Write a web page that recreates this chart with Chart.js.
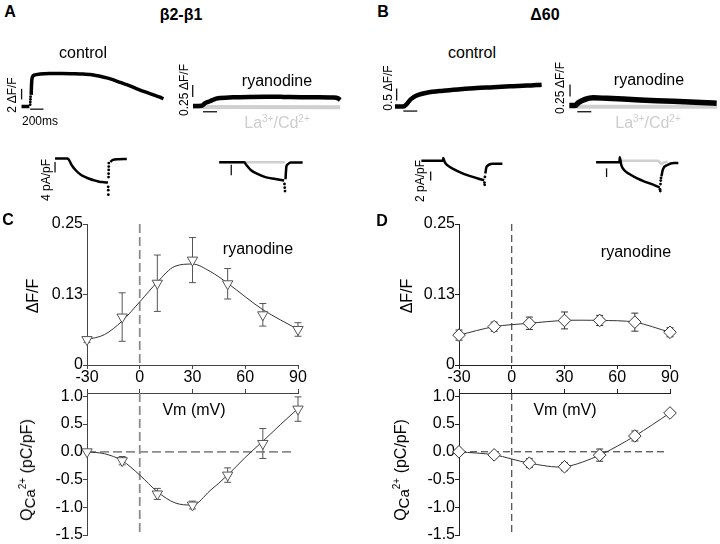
<!DOCTYPE html>
<html>
<head>
<meta charset="utf-8">
<script src="https://cdn.jsdelivr.net/npm/chart.js@4.4.1/dist/chart.umd.min.js"></script>
<style>
body{margin:0;background:#fff;font-family:"Liberation Sans",Arial,sans-serif;}
#fig{position:relative;width:720px;height:544px;overflow:hidden;background:#fff;}
canvas{position:absolute;}
.t{position:absolute;white-space:nowrap;transform:translate(-50%,-50%);color:#000;font-size:16px;line-height:1;}
.r{transform:translate(-50%,-50%) rotate(-90deg);}
.b{font-weight:bold;}
.s{font-size:12px;}
.g{color:#cdcdcd;}
sup{font-size:10px;vertical-align:6px;line-height:0;}
.sb{font-size:15px;vertical-align:-3px;}
</style>
</head>
<body>
<div id="fig"></div>
<script>
// ---- traces (time in ms, fluorescence in dF/F, current in pA/pF) ----
const aCtrlFt = [-130, -12, 8, 15, 20, 25, 35, 60, 150, 300, 470, 650, 800, 950, 1050, 1150, 1250, 1350, 1450, 1550, 1650, 1750, 1850, 1950, 2000];
const aCtrlF  = [0, 0, null, 2.2, 4.0, 5.0, 5.6, 5.9, 6.1, 6.2, 6.22, 6.17, 6.1, 5.95, 5.7, 5.4, 5.0, 4.55, 4.1, 3.6, 3.1, 2.65, 2.2, 1.75, 1.45];
const aCtrlFdt = [0, 2, 4, 6];
const aCtrlFd  = [0.35, 0.85, 1.35, 1.85];

const aRyaFt = [-143, -20, 30, 100, 160, 215, 430, 650, 915, 1150, 1390, 1620, 1860, 1930, 1960];
const aRyaF  = [0, 0.005, 0.06, 0.1, 0.14, 0.16, 0.18, 0.19, 0.195, 0.19, 0.182, 0.18, 0.175, 0.16, 0.125];
const aLaFt = [-143, 1960];
const aLaF  = [-0.02, -0.028];

const bCtrlFt = [-119, 0, 48, 96, 143, 214, 334, 571, 810, 1048, 1286, 1524, 1762, 1976];
const bCtrlF  = [0, 0, 0.1, 0.27, 0.38, 0.48, 0.575, 0.66, 0.72, 0.77, 0.8, 0.84, 0.87, 0.91];

const bRyaFt = [-114, -30, 14, 110, 229, 420, 657, 896, 1134, 1371, 1610, 1849, 1991];
const bRyaF  = [0, 0, 0.058, 0.129, 0.16, 0.15, 0.135, 0.115, 0.1, 0.088, 0.073, 0.058, 0.046];
const bLaFt = [0, 2000];
const bLaF  = [-0.025, -0.025];

const aCtrlIt = [-186, 0, 24, 71, 143, 214, 286, 357, 429, 500, 571, 636, 650, 671, 714, 786, 929];
const aCtrlI  = [0, 0, -0.3, -2.5, -4.7, -6.2, -7.1, -7.85, -8.4, -8.85, -9.05, -9.2, null, -1.3, -0.6, -0.33, -0.27];
const aCtrlIdt = [640, 641, 642, 645, 646, 647, 648, 649];
const aCtrlId  = [-10.8, -12.1, -13.8, -7.1, -5.8, -4.4, -3.1, -1.8];

const aRyaIt = [-386, 0, 33, 104, 195, 338, 481, 614, 622, 636, 643, 650, 671, 714, 900];
const aRyaI  = [0, 0, -1.1, -3.1, -4.4, -5.8, -6.4, -7.0, null, -6.5, -3.5, -1.6, -0.8, -0.17, -0.1];
const aRyaIdt = [620, 624, 628];
const aRyaId  = [-8.3, -9.7, -11.0];
const aLaIt = [-386, 629];
const aLaI  = [0, 0];

const bCtrlIt = [-339, -5, 0, 23, 71, 167, 262, 405, 548, 633, 642, 650, 666, 690, 714, 760, 914];
const bCtrlI  = [0, 0, 0.6, -0.34, -1.14, -2.0, -2.68, -3.48, -4.14, -4.48, null, -2.94, -1.54, -1.1, -0.88, -0.72, -0.68];
const bCtrlIdt = [636, 640, 644];
const bCtrlId  = [-5.0, -5.5, -3.7];

const bRyaIt = [-366, -5, 0, 24, 71, 143, 262, 405, 524, 619, 628, 645, 667, 738, 834, 906];
const bRyaI  = [0, 0, 1.1, -0.66, -1.86, -2.66, -3.66, -4.54, -5.2, -5.8, null, -3.2, -1.66, -0.66, -0.2, -0.2];
const bRyaIdt = [622, 626, 630, 634, 638];
const bRyaId  = [-6.2, -6.6, -5.0, -4.2, -3.6];
const bLaIt = [0, 590, 615, 640, 680, 740];
const bLaI  = [0.34, 0.34, 0.0, -0.4, -0.1, 0.1];

// ---- voltage dependence ----
const vm = [-30, -10, 10, 30, 50, 70, 90];
const cF    = [0.045, 0.085, 0.145, 0.186, 0.144, 0.089, 0.063];
const cFerr = [0.005, 0.043, 0.05, 0.04, 0.027, 0.02, 0.012];
const cFitV = [-30, -20, -10, 0, 10, 20, 30, 40, 50, 60, 70, 80, 90];
const cFitF = [0.045, 0.054, 0.078, 0.112, 0.147, 0.175, 0.179, 0.166, 0.145, 0.121, 0.098, 0.08, 0.063];
const cQ    = [0, -0.16, -0.76, -0.96, -0.42, 0.15, 0.77];
const cQerr = [0, 0.075, 0.1, 0.07, 0.13, 0.27, 0.22];
const cFitQ = [0, -0.036, -0.16, -0.42, -0.72, -0.92, -0.96, -0.7, -0.42, -0.1, 0.19, 0.49, 0.78];
const dF    = [0.053, 0.068, 0.074, 0.079, 0.079, 0.076, 0.058];
const dFerr = [0.009, 0.008, 0.011, 0.015, 0.009, 0.016, 0.008];
const dQ    = [0, -0.055, -0.205, -0.27, -0.06, 0.285, 0.70];
const dQerr = [0, 0.02, 0.08, 0.07, 0.11, 0.09, 0.04];

const vmTicks = [-30, 0, 30, 60, 90];
const fTicks = [0, 0.125, 0.25];
const qTicks = [-1.5, -1.0, -0.5, 0, 0.5, 1.0];

Chart.defaults.font.family = '"Liberation Sans", Arial, sans-serif';
const fig = document.getElementById('fig');
const zip = (xs, ys) => xs.map((x, i) => ({x: x, y: ys[i]}));

function canvasAt(l, t, w, h) {
  const c = document.createElement('canvas');
  c.width = w; c.height = h;
  c.style.left = l + 'px'; c.style.top = t + 'px';
  c.style.width = w + 'px'; c.style.height = h + 'px';
  fig.appendChild(c);
  return c.getContext('2d');
}

function text(html, x, y, cls) {
  const d = document.createElement('div');
  d.className = 't ' + (cls || '');
  d.innerHTML = html;
  d.style.left = x + 'px'; d.style.top = y + 'px';
  fig.appendChild(d);
}

// trace panels: box in page px, origin = page px of (t=0, value=0)
const MS_PER_PX = 200 / 14;
const scaleBars = {
  id: 'scaleBars',
  afterDatasetsDraw(chart, args, o) {
    const {ctx, scales: {x, y}} = chart;
    ctx.save();
    ctx.strokeStyle = '#111';
    ctx.lineWidth = 1.3;
    (o.bars || []).forEach(b => {
      ctx.beginPath();
      ctx.moveTo(x.getPixelForValue(b[0]), y.getPixelForValue(b[1]));
      ctx.lineTo(x.getPixelForValue(b[2]), y.getPixelForValue(b[3]));
      ctx.stroke();
    });
    ctx.restore();
  }
};

function trace(box, origin, perPx, series, bars) {
  const ctx = canvasAt(box.l, box.t, box.w, box.h);
  new Chart(ctx, {
    type: 'line',
    data: {
      datasets: series.map(s => ({
        data: zip(s.t, s.v),
        borderColor: s.color || '#000',
        backgroundColor: s.color || '#000',
        borderWidth: s.dots ? 0 : (s.w || 3),
        showLine: !s.dots,
        pointRadius: s.dots ? 1.4 : 0,
        cubicInterpolationMode: 'monotone',
        spanGaps: false
      }))
    },
    options: {
      responsive: false, devicePixelRatio: 1, animation: false, events: [],
      layout: {padding: 0},
      scales: {
        x: {type: 'linear', display: false,
            min: (box.l - origin.x) * MS_PER_PX, max: (box.l + box.w - origin.x) * MS_PER_PX},
        y: {type: 'linear', display: false,
            min: (origin.y - box.t - box.h) * perPx, max: (origin.y - box.t) * perPx}
      },
      plugins: {legend: {display: false}, tooltip: {enabled: false}, scaleBars: {bars: bars}}
    },
    plugins: [scaleBars]
  });
}

const GRAY = '#cfcfcf';
trace({l: 10, t: 60, w: 165, h: 70}, {x: 27, y: 108}, 2 / 12, [
  {t: aCtrlFdt, v: aCtrlFd, dots: true},
  {t: aCtrlFt, v: aCtrlF, w: 3.5}
], [[-129, 1.33, -129, 3.33], [0, -0.5, 200, -0.5]]);

trace({l: 185, t: 75, w: 160, h: 45}, {x: 203, y: 106}, 0.25 / 12, [
  {t: aRyaFt, v: aRyaF, w: 4.5},
  {t: aLaFt, v: aLaF, w: 4, color: GRAY}
], [[-147, 0.19, -147, 0.44], [0, -0.12, 200, -0.12]]);

trace({l: 385, t: 75, w: 165, h: 45}, {x: 403.3, y: 106.5}, 0.5 / 12, [
  {t: bCtrlFt, v: bCtrlF, w: 4.5}
], [[-95, 0.25, -95, 0.75], [0, -0.19, 200, -0.19]]);

trace({l: 560, t: 75, w: 160, h: 45}, {x: 577.3, y: 105.5}, 0.25 / 12, [
  {t: bRyaFt, v: bRyaF, w: 5.5},
  {t: bLaFt, v: bLaF, w: 4, color: GRAY}
], [[-104, 0.19, -104, 0.44], [0, -0.13, 200, -0.13]]);

trace({l: 40, t: 145, w: 100, h: 65}, {x: 65, y: 155.7}, 1 / 3, [
  {t: aCtrlIdt, v: aCtrlId, dots: true},
  {t: aCtrlIt, v: aCtrlI, w: 2.5}
], [[-186, -1.4, -186, -5.4]]);

trace({l: 205, t: 145, w: 110, h: 65}, {x: 243, y: 160}, 1 / 3, [
  {t: aRyaIdt, v: aRyaId, dots: true},
  {t: aRyaIt, v: aRyaI, w: 2.5},
  {t: aLaIt, v: aLaI, w: 2.5, color: GRAY}
], [[-200, -1, -200, -5]]);

trace({l: 410, t: 145, w: 105, h: 65}, {x: 441.7, y: 158.3}, 0.2, [
  {t: bCtrlIdt, v: bCtrlId, dots: true},
  {t: bCtrlIt, v: bCtrlI, w: 2.5}
], [[-195, -2.5, -195, -4.5]]);

trace({l: 585, t: 145, w: 105, h: 65}, {x: 618.3, y: 160}, 0.2, [
  {t: bRyaIdt, v: bRyaId, dots: true},
  {t: bRyaIt, v: bRyaI, w: 2.5},
  {t: bLaIt, v: bLaI, w: 2.5, color: GRAY}
], [[-204, -1.4, -204, -3.4]]);

// ---- voltage plots ----
const refLines = {
  id: 'refLines',
  beforeDatasetsDraw(chart, args, o) {
    const {ctx, chartArea: a, scales: {x, y}} = chart;
    ctx.save();
    ctx.strokeStyle = o.color; ctx.lineWidth = o.width; ctx.setLineDash(o.dash);
    ctx.beginPath();
    const x0 = x.getPixelForValue(0);
    ctx.moveTo(x0, a.top); ctx.lineTo(x0, a.bottom);
    if (o.hline) {
      const y0 = y.getPixelForValue(0);
      ctx.moveTo(a.left, y0); ctx.lineTo(x.getPixelForValue(88), y0);
    }
    ctx.stroke();
    ctx.restore();
  }
};
const errBars = {
  id: 'errBars',
  beforeDatasetsDraw(chart) {
    const {ctx, scales: {y}} = chart;
    ctx.save();
    chart.data.datasets.forEach((ds, i) => {
      if (!ds.err) return;
      ctx.strokeStyle = ds.errColor; ctx.lineWidth = 1;
      chart.getDatasetMeta(i).data.forEach((pt, j) => {
        const e = ds.err[j];
        if (!e) return;
        const v = ds.data[j].y;
        const y1 = y.getPixelForValue(v + e), y2 = y.getPixelForValue(v - e);
        ctx.beginPath();
        ctx.moveTo(pt.x, y1); ctx.lineTo(pt.x, y2);
        ctx.moveTo(pt.x - 3.5, y1); ctx.lineTo(pt.x + 3.5, y1);
        ctx.moveTo(pt.x - 3.5, y2); ctx.lineTo(pt.x + 3.5, y2);
        ctx.stroke();
      });
    });
    ctx.restore();
  }
};

function ivPlot(l, upper, o) {
  const ctx = canvasAt(l, upper ? 214 : 360, 320, upper ? 176 : 185);
  new Chart(ctx, {
    type: 'line',
    data: {datasets: o.datasets},
    options: {
      responsive: false, devicePixelRatio: 1, animation: false, events: [],
      layout: {padding: upper ? {top: 10, right: 22, left: 0, bottom: 0} : {top: 0, right: 22, left: 0, bottom: 10}},
      scales: {
        x: {type: 'linear', position: upper ? 'bottom' : 'top', min: -30, max: 90,
            afterBuildTicks: s => { s.ticks = vmTicks.map(v => ({value: v})); },
            afterFit: s => { s.height = upper ? 25 : 33; },
            grid: {drawOnChartArea: false, tickLength: 4, color: o.axis},
            border: {color: o.axis, width: 1},
            ticks: {display: upper, padding: -1, color: '#000', font: {size: 16}, maxRotation: 0}},
        y: {type: 'linear', min: o.ymin, max: o.ymax,
            afterBuildTicks: s => { s.ticks = o.ticks.map(v => ({value: v})); },
            afterFit: s => { s.width = 87; },
            grid: {drawOnChartArea: false, tickLength: 4, color: o.axis},
            border: {color: o.axis, width: 1},
            ticks: {padding: 0, color: '#000', font: {size: 16}, callback: o.fmt}}
      },
      plugins: {legend: {display: false}, tooltip: {enabled: false},
                refLines: {color: o.dashColor, width: o.dashWidth, dash: o.dash, hline: !upper}}
    },
    plugins: [refLines, errBars]
  });
}

const fmtF = v => v === 0 ? '0' : v.toFixed(2);
const fmtQ = v => v.toFixed(1);
function marks(ys, err, style, color, line) {
  return {
    data: zip(vm, ys), err: err, errColor: color, clip: false,
    showLine: !!line, borderColor: '#333', borderWidth: 1, tension: 0.3,
    pointStyle: style, rotation: style === 'triangle' ? 180 : 0,
    pointRadius: style === 'triangle' ? 6 : 6.3,
    pointBackgroundColor: '#fff', pointBorderColor: color, pointBorderWidth: 1
  };
}
function fit(xs, ys) {
  return {data: zip(xs, ys), borderColor: '#333', borderWidth: 1, pointRadius: 0,
          cubicInterpolationMode: 'monotone', clip: false};
}

const cStyle = {axis: '#444', dashColor: '#8c8c8c', dashWidth: 1.8, dash: [9, 4]};
const dStyle = {axis: '#222', dashColor: '#222', dashWidth: 1, dash: [7, 4]};

ivPlot(0, true, Object.assign({ymin: 0, ymax: 0.25, ticks: fTicks, fmt: fmtF,
  datasets: [marks(cF, cFerr, 'triangle', '#555'), fit(cFitV, cFitF)]}, cStyle));
ivPlot(0, false, Object.assign({ymin: -1.5, ymax: 1.06, ticks: qTicks, fmt: fmtQ,
  datasets: [marks(cQ, cQerr, 'triangle', '#555'), fit(cFitV, cFitQ)]}, cStyle));
ivPlot(372, true, Object.assign({ymin: 0, ymax: 0.25, ticks: fTicks, fmt: fmtF,
  datasets: [marks(dF, dFerr, 'rectRot', '#333', true)]}, dStyle));
ivPlot(372, false, Object.assign({ymin: -1.5, ymax: 1.06, ticks: qTicks, fmt: fmtQ,
  datasets: [marks(dQ, dQerr, 'rectRot', '#333', true)]}, dStyle));

// ---- text ----
const LA = 'La<sup>3+</sup>/Cd<sup>2+</sup>';
const QL = 'Q<span class="sb">Ca</span><sup>2+</sup> (pC/pF)';
text('A', 10, 12, 'b');
text('β2-β1', 181, 15, 'b');
text('B', 383, 12, 'b');
text('Δ60', 545, 15, 'b');
text('control', 83, 53);
text('2 ΔF/F', 12, 95, 's r');
text('200ms', 40, 121, 's');
text('ryanodine', 277, 81);
text('0.25 ΔF/F', 184, 90, 's r');
text(LA, 277, 123, 'g');
text('4 pA/pF', 46, 180, 's r');
text('control', 472, 53);
text('0.5 ΔF/F', 388, 88, 's r');
text('ryanodine', 649, 80);
text('0.25 ΔF/F', 560, 88, 's r');
text(LA, 648, 123, 'g');
text('2 pA/pF', 420, 181, 's r');
text('C', 8, 220, 'b');
text('D', 382, 221, 'b');
text('ΔF/F', 33, 296, 'r');
text('ΔF/F', 407, 296, 'r');
text('ryanodine', 258, 249);
text('ryanodine', 636, 252);
text('Vm (mV)', 194, 410);
text('Vm (mV)', 565, 410);
text(QL, 28, 470, 'r');
text(QL, 402, 470, 'r');
</script>
</body>
</html>
